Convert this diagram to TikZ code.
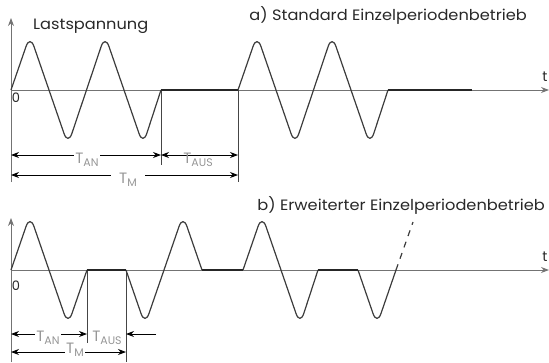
\documentclass[tikz,border=0pt]{standalone}
\usepackage{fontspec}
\setmainfont{Poppins}
\newfontfamily\titlefont{Poppins}[FakeStretch=1.08]
\usetikzlibrary{arrows.meta}
\definecolor{axisgray}{RGB}{115,115,115}
\definecolor{wavegray}{RGB}{60,60,60}
\definecolor{labelgray}{RGB}{150,150,150}
\definecolor{textdark}{RGB}{40,40,40}
\newcommand\Tlab[1]{{\fontsize{15}{15}\selectfont T}\raisebox{-0.3em}{\fontsize{11}{11}\selectfont #1}}
\begin{document}
\begin{tikzpicture}[x=1pt,y=-1pt,
  axis/.style={draw=axisgray, line width=1pt, -{Stealth[length=8pt,width=6pt]}},
  wave/.style={draw=wavegray, line width=1.2pt, rounded corners=12pt, line join=round},
  flat/.style={draw=black!85, line width=1.6pt},
  dimline/.style={draw=black, line width=0.9pt},
  dimarrow/.style={dimline, {Stealth[length=8pt,width=6pt]}-{Stealth[length=8pt,width=6pt]}},
  onearrow/.style={dimline, -{Stealth[length=8pt,width=6pt]}},
  tlabel/.style={fill=white, inner sep=1pt, text=labelgray},
  title/.style={text=textdark, font=\titlefont\fontsize{15}{16}\selectfont, inner sep=0pt},
  zero/.style={text=textdark, font=\fontsize{13}{13}\selectfont, inner sep=0pt}
]
\useasboundingbox (0,0) rectangle (549,362);
% ---------- part a ----------
\coordinate (aO) at (11,90);
\coordinate (aTop) at (11,18);
\coordinate (aBot) at (11,182);
\coordinate (aEnd) at (549,90);
\coordinate (aX1) at (161,90);
\coordinate (aX1b) at (161,165);
\coordinate (aX2) at (238,90);
\coordinate (aX2b) at (238,182);
\draw[axis] (aBot) -- (aTop);
\draw[axis] (aO) -- (aEnd);
\draw[dimline, draw=axisgray!60!black] (aX1) -- (aX1b);
\draw[dimline, draw=axisgray!60!black] (aX2) -- (aX2b);
\draw[wave] (aO) -- (30,35) -- (68,145) -- (105,35) -- (143,145) -- (aX1);
\draw[wave] (aX2) -- (257,35) -- (295,145) -- (332,35) -- (370,145) -- (388,90);
\draw[flat] (aX1) -- (aX2);
\draw[flat] (388,90) -- (472,90);
\node[title, anchor=west] (lastsp) at (33,26) {Lastspannung};
\node[title, anchor=east] (titlea) at (527,15) {a) Standard Einzelperiodenbetrieb};
\node[text=textdark, font=\fontsize{14}{14}\selectfont, inner sep=0pt] (ta) at (545,77) {t};
\node[zero] (zeroa) at (16,98) {0};
% dimensions a
\coordinate (aAN1) at (11,155);
\coordinate (aAN2) at (161,155);
\coordinate (aAUS2) at (238,155);
\coordinate (aM1) at (11,175);
\coordinate (aM2) at (238,175);
\draw[dimarrow] (aAN1) -- (aAN2);
\draw[dimarrow] (aAN2) -- (aAUS2);
\draw[dimarrow] (aM1) -- (aM2);
\node[tlabel] (lanA) at (87,160) {\Tlab{AN}};
\node[tlabel, fill=none] (lausA) at (198,160) {\Tlab{AUS}};
\node[tlabel, inner xsep=8pt] (lmA) at (128,180) {\Tlab{M}};
% ---------- part b ----------
\coordinate (bO) at (11,270);
\coordinate (bTop) at (11,218);
\coordinate (bBot) at (11,362);
\coordinate (bEnd) at (549,270);
\coordinate (bX1) at (87,270);
\coordinate (bX1b) at (87,343);
\coordinate (bX2) at (126,270);
\coordinate (bX2b) at (126,362);
\draw[axis] (bBot) -- (bTop);
\draw[axis] (bO) -- (bEnd);
\draw[dimline, draw=axisgray!60!black] (bX1) -- (bX1b);
\draw[dimline, draw=axisgray!60!black] (bX2) -- (bX2b);
\draw[wave] (bO) -- (30,215) -- (68,325) -- (bX1);
\draw[wave] (bX2) -- (145,325) -- (183,215) -- (202,270);
\draw[wave] (243,270) -- (262,215) -- (300,325) -- (318,270);
\draw[wave] (358,270) -- (377,325) -- (396,270);
\draw[draw=wavegray, line width=1.2pt, dash pattern=on 6pt off 6pt] (396,270) -- (413,222);
\draw[flat] (bX1) -- (bX2);
\draw[flat] (202,270) -- (243,270);
\draw[flat] (318,270) -- (358,270);
\node[title, anchor=east] (titleb) at (545,205) {b) Erweiterter Einzelperiodenbetrieb};
\node[text=textdark, font=\fontsize{14}{14}\selectfont, inner sep=0pt] (tb) at (545,257) {t};
\node[zero] (zerob) at (16,286) {0};
% dimensions b
\coordinate (bAN1) at (11,334);
\coordinate (bAN2) at (87,334);
\coordinate (bM1) at (11,352);
\coordinate (bM2) at (126,352);
\coordinate (bAUSr) at (156,334);
\coordinate (bAUS) at (126,334);
\draw[dimarrow] (bAN1) -- (bAN2);
\draw[dimarrow] (bM1) -- (bM2);
\draw[onearrow] (bAUSr) -- (bAUS);
\node[tlabel] (lanB) at (48,338) {\Tlab{AN}};
\node[tlabel] (lmB) at (75,350) {\Tlab{M}};
\node[tlabel, fill=none] (lausB) at (107,338) {\Tlab{AUS}};
\end{tikzpicture}
\end{document}
